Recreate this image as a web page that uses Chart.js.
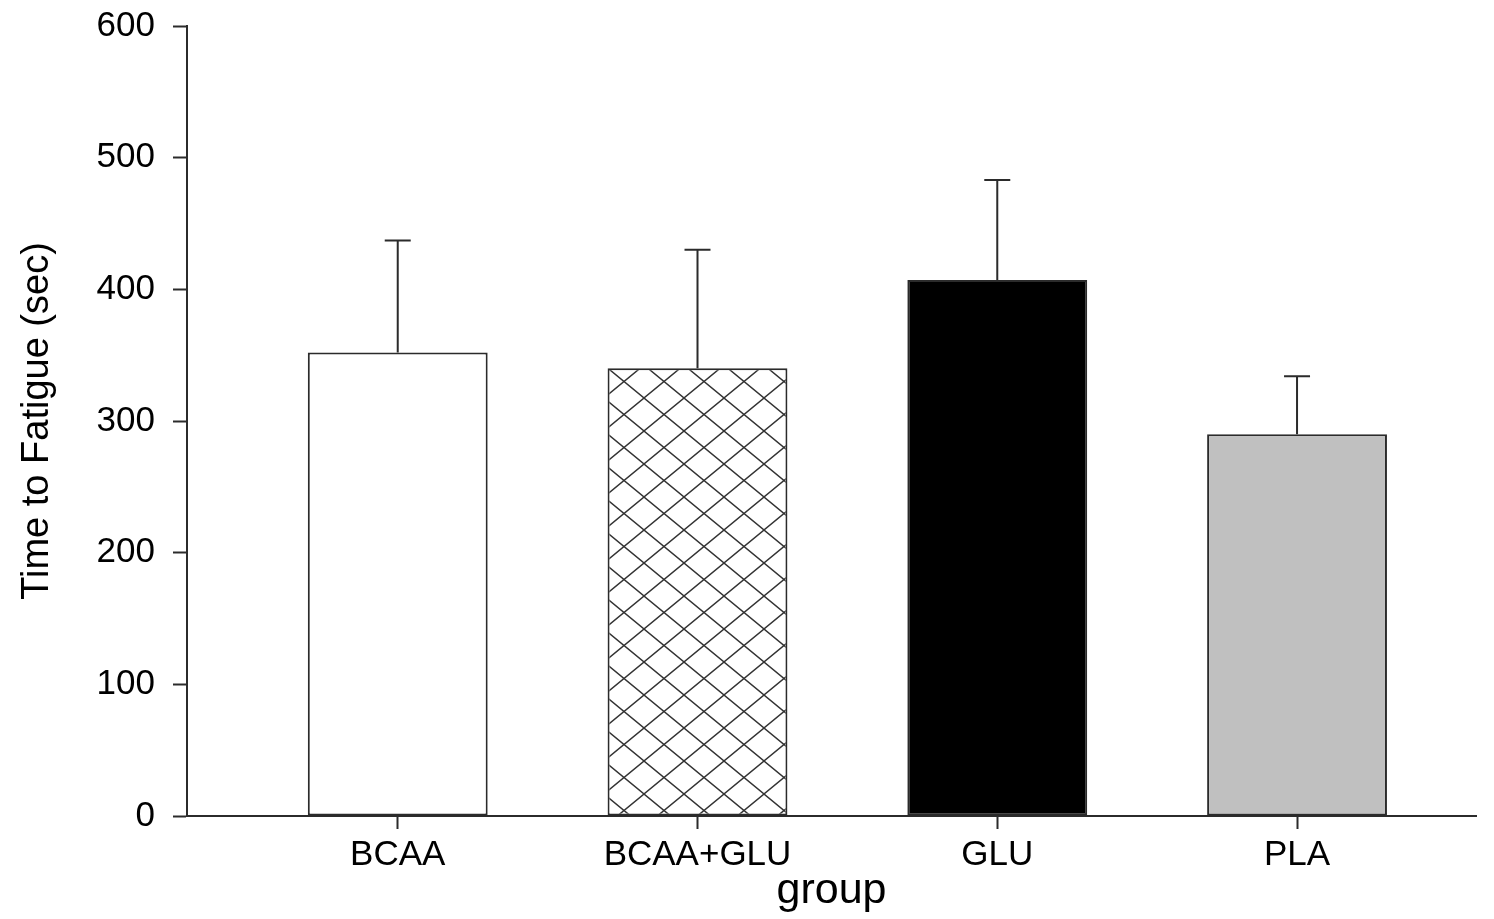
<!DOCTYPE html>
<html>
<head>
<meta charset="utf-8">
<title>Time to Fatigue</title>
<script src="https://cdn.jsdelivr.net/npm/chart.js@4.4.1/dist/chart.umd.min.js"></script>
<style>
  html, body { margin: 0; padding: 0; background: #fff; }
  #chart { display: block; }
</style>
</head>
<body>
<canvas id="chart" width="1494" height="919"></canvas>
<script>
// values (mean + upward SD bar)
const groups   = ['BCAA', 'BCAA+GLU', 'GLU', 'PLA'];
const groupPos = [1, 2, 3, 4];
const meanTime = [352, 340, 407, 290];
const sdTime   = [85, 90, 76, 44];
const yTicks   = [0, 100, 200, 300, 400, 500, 600];

const FONT = "'Liberation Sans', Arial, sans-serif";
const INK = '#2b2b2b';

// cross-hatch fill for the BCAA+GLU bar
function makeHatch() {
  const c = document.createElement('canvas');
  c.width = 40; c.height = 33;
  const g = c.getContext('2d');
  g.fillStyle = '#fff';
  g.fillRect(0, 0, 40, 33);
  g.strokeStyle = '#333';
  g.lineWidth = 1.4;
  g.beginPath();
  g.moveTo(-4, -3.3); g.lineTo(44, 36.3);
  g.moveTo(44, -3.3); g.lineTo(-4, 36.3);
  g.stroke();
  const p = g.createPattern(c, 'repeat');
  if (p.setTransform) p.setTransform(new DOMMatrix().translate(4, 2));
  return p;
}

// error bars: only the upper half, with a short cap
const errorBars = {
  id: 'errorBars',
  afterDatasetsDraw(chart) {
    const meta = chart.getDatasetMeta(0);
    const y = chart.scales.y;
    const ctx = chart.ctx;
    ctx.save();
    ctx.strokeStyle = INK;
    ctx.lineWidth = 2;
    meta.data.forEach((bar, i) => {
      const top = y.getPixelForValue(meanTime[i] + sdTime[i]);
      ctx.beginPath();
      ctx.moveTo(bar.x, bar.y);
      ctx.lineTo(bar.x, top);
      ctx.moveTo(bar.x - 13, top);
      ctx.lineTo(bar.x + 13, top);
      ctx.stroke();
    });
    ctx.restore();
  }
};

const ctx = document.getElementById('chart').getContext('2d');
new Chart(ctx, {
  type: 'bar',
  data: {
    datasets: [{
      data: groupPos.map((x, i) => ({ x: x, y: meanTime[i] })),
      backgroundColor: ['#ffffff', makeHatch(), '#000000', '#c0c0c0'],
      borderColor: INK,
      borderWidth: 2,
      borderSkipped: false,
      categoryPercentage: 1,
      barPercentage: 0.6
    }]
  },
  options: {
    responsive: false,
    animation: false,
    layout: { padding: { top: 26, right: 18, left: 0, bottom: 0 } },
    plugins: { legend: { display: false }, tooltip: { enabled: false } },
    scales: {
      x: {
        type: 'linear',
        min: 0.297,
        max: 4.597,
        offset: false,
        afterFit(scale) { scale.height = 103; },
        afterBuildTicks(scale) { scale.ticks = groupPos.map(v => ({ value: v })); },
        grid: { offset: false, drawOnChartArea: false, drawTicks: true, tickLength: 13, tickColor: INK, tickWidth: 2 },
        border: { display: true, color: INK, width: 2 },
        ticks: {
          autoSkip: false,
          maxRotation: 0,
          padding: 5,
          color: '#000',
          font: { family: FONT, size: 35 },
          callback: (v) => groups[groupPos.indexOf(v)] || ''
        },
        title: {
          display: true,
          text: 'group',
          color: '#000',
          font: { family: FONT, size: 43 },
          padding: { top: 0, bottom: 2 }
        }
      },
      y: {
        min: 0,
        max: 600,
        afterFit(scale) {
          scale.width = 187;
          // keep the plot top where the layout padding puts it
          scale.paddingTop = 0;
          scale.paddingBottom = 0;
        },
        afterBuildTicks(scale) { scale.ticks = yTicks.map(v => ({ value: v })); },
        grid: { drawOnChartArea: false, drawTicks: true, tickLength: 14, tickColor: INK, tickWidth: 2 },
        border: { display: true, color: INK, width: 2 },
        ticks: {
          padding: 18,
          color: '#000',
          font: { family: FONT, size: 35 }
        },
        title: {
          display: true,
          text: 'Time to Fatigue (sec)',
          color: '#000',
          font: { family: FONT, size: 38 },
          padding: { top: 15, bottom: 0 }
        }
      }
    }
  },
  plugins: [errorBars]
});
</script>
</body>
</html>
